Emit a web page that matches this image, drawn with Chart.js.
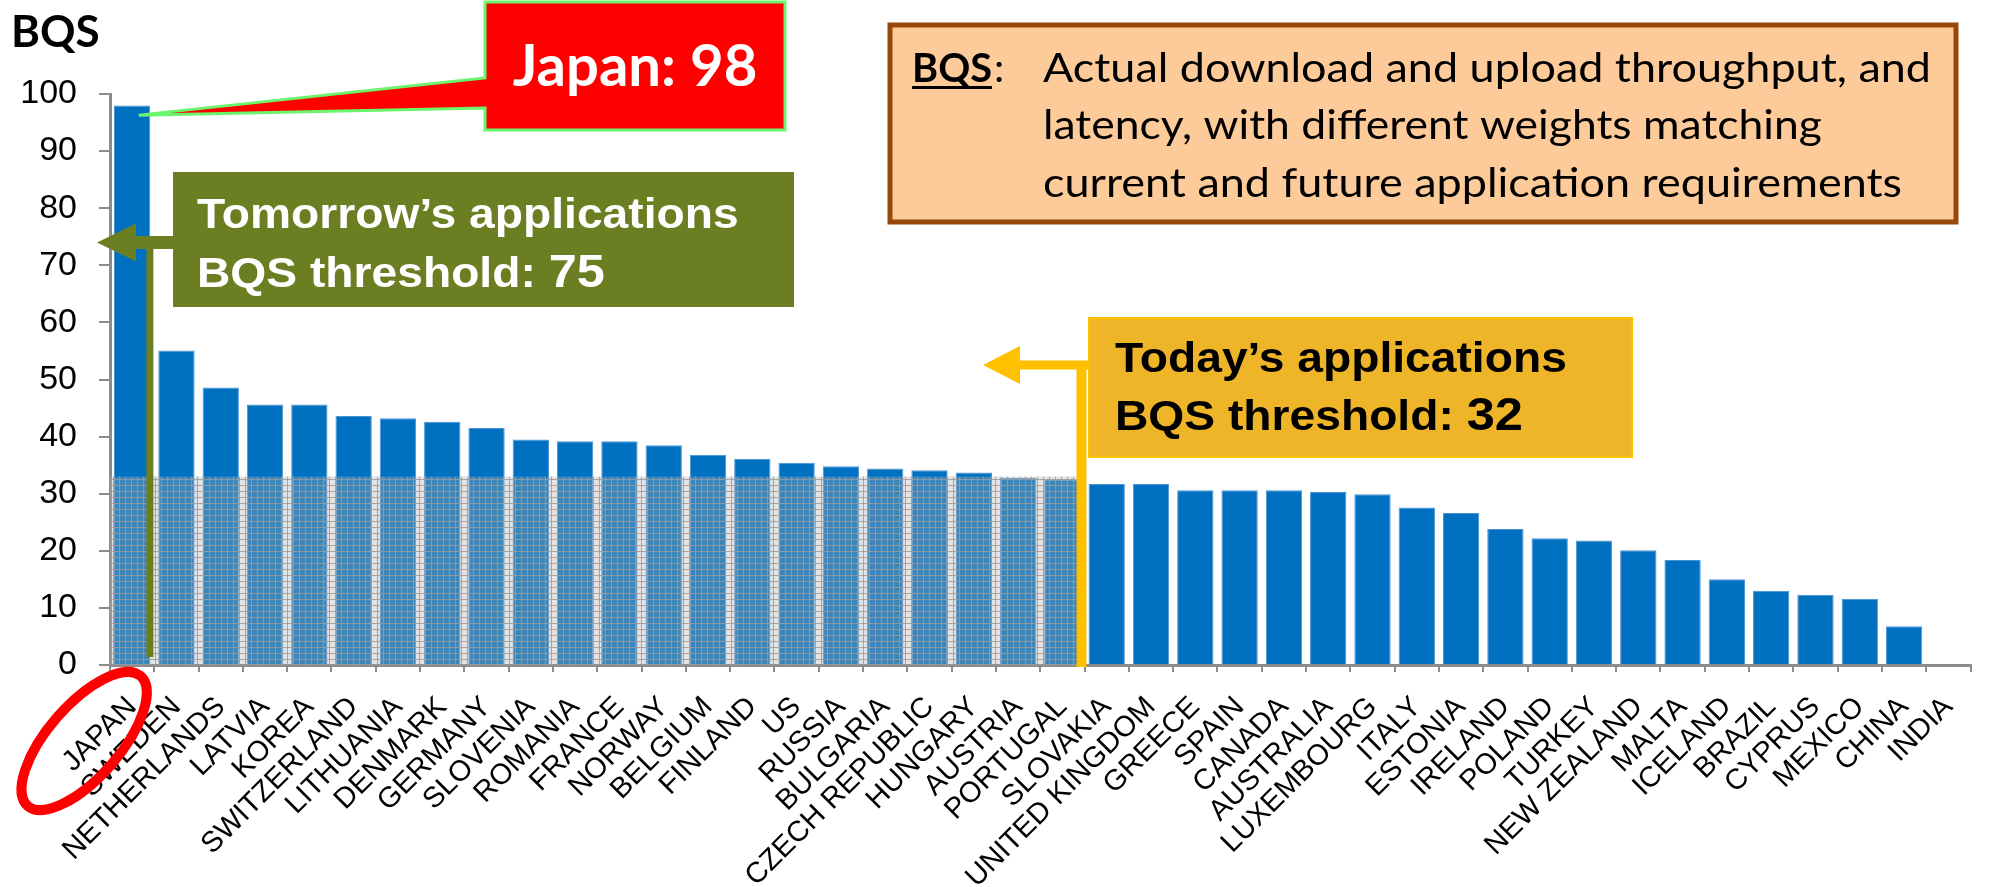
<!DOCTYPE html>
<html>
<head>
<meta charset="utf-8">
<script src="https://cdn.jsdelivr.net/npm/chart.js@4.4.1/dist/chart.umd.min.js"></script>
<style>
  html, body { margin: 0; padding: 0; background: #fff; }
  #wrap { width: 1991px; height: 887px; position: relative; }
</style>
</head>
<body>
<div id="wrap"><canvas id="bqsChart"></canvas></div>
<script>
const countries = ['JAPAN', 'SWEDEN', 'NETHERLANDS', 'LATVIA', 'KOREA', 'SWITZERLAND', 'LITHUANIA',
  'DENMARK', 'GERMANY', 'SLOVENIA', 'ROMANIA', 'FRANCE', 'NORWAY', 'BELGIUM', 'FINLAND', 'US',
  'RUSSIA', 'BULGARIA', 'CZECH REPUBLIC', 'HUNGARY', 'AUSTRIA', 'PORTUGAL', 'SLOVAKIA',
  'UNITED KINGDOM', 'GREECE', 'SPAIN', 'CANADA', 'AUSTRALIA', 'LUXEMBOURG', 'ITALY', 'ESTONIA',
  'IRELAND', 'POLAND', 'TURKEY', 'NEW ZEALAND', 'MALTA', 'ICELAND', 'BRAZIL', 'CYPRUS', 'MEXICO',
  'CHINA', 'INDIA'];
const bqsScores = [98, 55.1, 48.6, 45.6, 45.6, 43.6, 43.2, 42.6, 41.5, 39.5, 39.2, 39.2, 38.5,
  36.8, 36.1, 35.4, 34.8, 34.4, 34.1, 33.7, 32.8, 32.5, 31.7, 31.7, 30.6, 30.6, 30.6, 30.3, 29.9,
  27.6, 26.6, 23.8, 22.2, 21.8, 20.1, 18.4, 15.0, 13.0, 12.3, 11.6, 6.8, null];
const yTicks = [0, 10, 20, 30, 40, 50, 60, 70, 80, 90, 100];

const tomorrowThreshold = 75;
const todayThreshold = 32;
const shadeTop = 33;          // top of the hatched band as drawn
const definition = [
  'Actual download and upload throughput, and',
  'latency, with different weights matching',
  'current and future application requirements'
];

const ARIAL = '"Liberation Sans", Arial, sans-serif';
const CALIBRI = 'Lato, "Noto Sans", sans-serif';

// draw text squeezed/stretched to a given width
function fitText(ctx, text, x, y, width) {
  const w = ctx.measureText(text).width;
  ctx.save();
  ctx.translate(x, y);
  ctx.scale(width / w, 1);
  ctx.fillText(text, 0, 0);
  ctx.restore();
}

// draw text with a horizontal stretch, returns advance
function wideText(ctx, text, x, y, k) {
  ctx.save();
  ctx.translate(x, y);
  ctx.scale(k, 1);
  ctx.fillText(text, 0, 0);
  ctx.restore();
  return ctx.measureText(text).width * k;
}

function leftArrow(ctx, tipX, cy, headEnd, half, shaftEnd, thick) {
  ctx.beginPath();
  ctx.moveTo(tipX, cy);
  ctx.lineTo(headEnd, cy - half);
  ctx.lineTo(headEnd, cy - thick / 2);
  ctx.lineTo(shaftEnd, cy - thick / 2);
  ctx.lineTo(shaftEnd, cy + thick / 2);
  ctx.lineTo(headEnd, cy + thick / 2);
  ctx.lineTo(headEnd, cy + half);
  ctx.closePath();
  ctx.fill();
}

function gridPattern(ctx) {
  const c = document.createElement('canvas');
  c.width = 6; c.height = 6;
  const p = c.getContext('2d');
  p.fillStyle = 'rgba(175,175,175,0.35)';
  p.fillRect(0, 0, 6, 6);
  p.fillStyle = 'rgba(155,155,155,0.85)';
  p.fillRect(0, 5, 6, 1);
  p.fillRect(5, 0, 1, 6);
  return ctx.createPattern(c, 'repeat');
}

const annotations = {
  id: 'annotations',
  afterDatasetsDraw(chart) {
    const { ctx, chartArea, scales: { x, y } } = chart;
    const divider = x.getPixelForValue(21.43) - 5;
    const top = y.getPixelForValue(shadeTop);
    ctx.save();
    ctx.fillStyle = gridPattern(ctx);
    ctx.fillRect(chartArea.left, top, divider - chartArea.left, y.getPixelForValue(0) - top);
    ctx.restore();
  },
  afterDraw(chart) {
    const { ctx, chartArea, scales: { x, y } } = chart;
    ctx.save();
    ctx.textBaseline = 'alphabetic';

    // axis title
    ctx.fillStyle = '#000';
    ctx.font = `bold 44px ${CALIBRI}`;
    ctx.fillText('BQS', 11, 47);

    // Japan callout
    const tipX = x.getPixelForValue(0.15), tipY = y.getPixelForValue(96.3);
    ctx.beginPath();
    ctx.moveTo(485, 2); ctx.lineTo(785, 2); ctx.lineTo(785, 130); ctx.lineTo(485, 130);
    ctx.lineTo(485, 108); ctx.lineTo(tipX, tipY); ctx.lineTo(485, 78); ctx.closePath();
    ctx.fillStyle = '#FF0000';
    ctx.fill();
    ctx.strokeStyle = '#6CF46C';
    ctx.lineWidth = 3;
    ctx.stroke();
    ctx.fillStyle = '#fff';
    ctx.font = `bold 58px ${CALIBRI}`;
    ctx.textAlign = 'center';
    ctx.fillText(`Japan: ${bqsScores[0]}`, 635, 86);
    ctx.textAlign = 'left';

    // tomorrow's threshold (olive)
    const olive = '#6B7E22';
    const yT = y.getPixelForValue(tomorrowThreshold - 1);
    const vx = x.getPixelForValue(0.4);
    ctx.fillStyle = olive;
    ctx.fillRect(vx - 3.5, yT, 7, y.getPixelForValue(1.4) - yT);
    leftArrow(ctx, 97, yT, 136, 19, 175, 13);
    ctx.fillRect(173, 172, 621, 135);
    ctx.fillStyle = '#fff';
    ctx.font = `bold 42px ${ARIAL}`;
    wideText(ctx, 'Tomorrow\u2019s applications', 197, 228, 1.1);
    let adv = wideText(ctx, 'BQS threshold: ', 197, 287, 1.1);
    ctx.font = `bold 46px ${ARIAL}`;
    wideText(ctx, String(tomorrowThreshold), 197 + adv, 287, 1.1);

    // today's threshold (yellow)
    const gold = '#FFC000';
    const lx = x.getPixelForValue(21.43);
    const yY = 365;
    ctx.fillStyle = '#EFB528';
    ctx.fillRect(1089, 318, 543, 139);
    ctx.strokeStyle = gold;
    ctx.lineWidth = 2;
    ctx.strokeRect(1089, 318, 543, 139);
    ctx.fillStyle = gold;
    ctx.fillRect(lx - 5, yY, 10, chartArea.bottom + 2 - yY);
    leftArrow(ctx, 983, yY, 1020, 19, 1090, 9);
    ctx.fillStyle = '#000';
    ctx.font = `bold 42px ${ARIAL}`;
    wideText(ctx, 'Today\u2019s applications', 1115, 372, 1.1);
    adv = wideText(ctx, 'BQS threshold: ', 1115, 430, 1.1);
    ctx.font = `bold 46px ${ARIAL}`;
    wideText(ctx, String(todayThreshold), 1115 + adv, 430, 1.1);

    // BQS definition box
    ctx.fillStyle = '#FCCB99';
    ctx.fillRect(890, 25, 1066, 197);
    ctx.strokeStyle = '#984807';
    ctx.lineWidth = 5;
    ctx.strokeRect(890, 25, 1066, 197);
    ctx.fillStyle = '#000';
    ctx.font = `bold 41px ${CALIBRI}`;
    fitText(ctx, 'BQS', 912, 82, 80);
    ctx.fillRect(912, 86, 80, 3);
    ctx.font = `41px ${CALIBRI}`;
    ctx.fillText(':', 994, 82);
    fitText(ctx, definition[0], 1043, 82, 888);
    fitText(ctx, definition[1], 1043, 139, 779);
    fitText(ctx, definition[2], 1043, 197, 859);

    // red ring round the JAPAN label
    ctx.beginPath();
    ctx.ellipse(x.getPixelForValue(0) - 48, chartArea.bottom + 76, 86, 36, -49 * Math.PI / 180, 0, Math.PI * 2);
    ctx.strokeStyle = '#FF0000';
    ctx.lineWidth = 10;
    ctx.stroke();

    ctx.restore();
  }
};

new Chart(document.getElementById('bqsChart'), {
  type: 'bar',
  data: {
    labels: countries,
    datasets: [{
      data: bqsScores,
      backgroundColor: '#0070C0',
      borderColor: '#4d93d4',
      borderWidth: 1,
      categoryPercentage: 1,
      barPercentage: 0.82
    }]
  },
  options: {
    responsive: true,
    maintainAspectRatio: false,
    animation: false,
    layout: { padding: { left: 0, top: 94, right: 1, bottom: 0 } },
    plugins: { legend: { display: false }, tooltip: { enabled: false } },
    scales: {
      x: {
        afterFit: s => { s.height = 222; },
        grid: { drawOnChartArea: false, color: '#8c8c8c', lineWidth: 2, tickLength: 7 },
        border: { color: '#8c8c8c', width: 3 },
        ticks: {
          autoSkip: false, minRotation: 45, maxRotation: 45, padding: 18,
          color: '#000', font: { family: ARIAL, size: 29 }
        }
      },
      y: {
        min: 0, max: 100,
        afterFit: s => { s.width = 110; },
        afterBuildTicks: s => { s.ticks = yTicks.map(v => ({ value: v })); },
        grid: { drawOnChartArea: false, color: '#8c8c8c', lineWidth: 2, tickLength: 11 },
        border: { color: '#8c8c8c', width: 3 },
        ticks: { padding: 22, color: '#000', font: { family: ARIAL, size: 34 } }
      }
    }
  },
  plugins: [annotations]
});
</script>
</body>
</html>
